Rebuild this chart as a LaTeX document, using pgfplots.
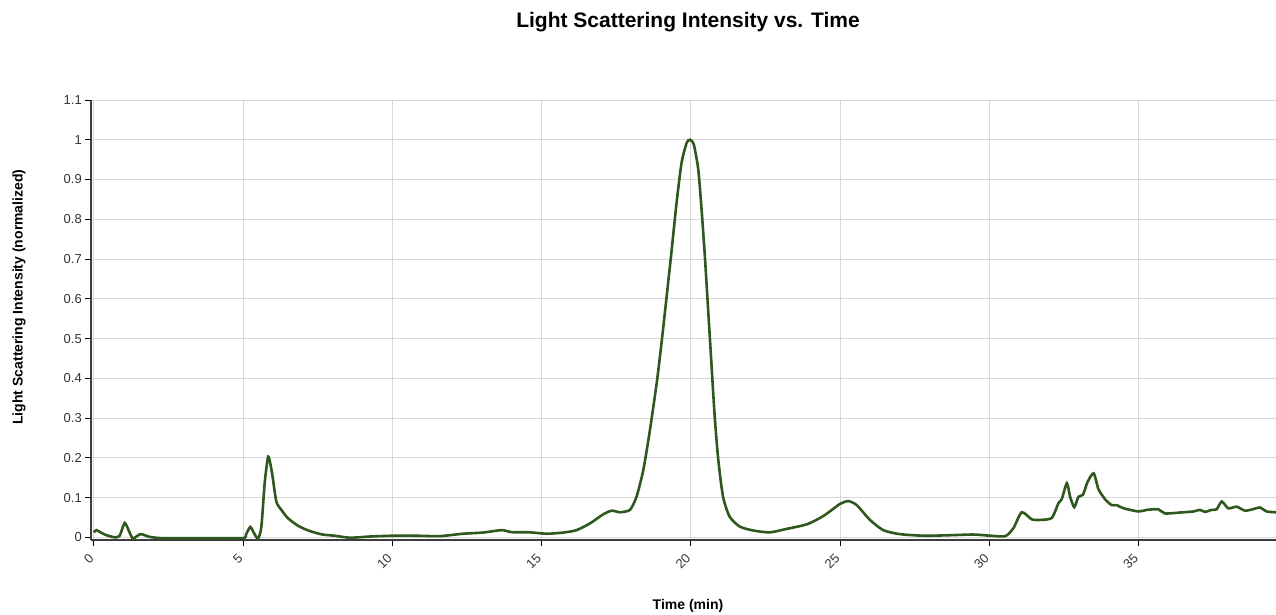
\documentclass[border=0pt]{standalone}
\usepackage{fontspec}
\setmainfont{Liberation Sans}
\usepackage{pgfplots}
\pgfplotsset{compat=1.18}
\definecolor{lsgreen}{RGB}{46,88,30}
\definecolor{gridgray}{RGB}{216,216,216}
\definecolor{axisgray}{RGB}{60,60,60}
\begin{document}
\begin{tikzpicture}[x=1pt,y=1pt]
  \useasboundingbox (0,0) rectangle (1276,-614);
  \begin{axis}[
    at={(91pt,-540pt)}, anchor=south west,
    scale only axis,
    width=1185pt, height=440pt,
    xmin=-0.1, xmax=39.61,
    ymin=-0.0068, ymax=1.1,
    xtick={0,5,...,35},
    ytick={0,0.1,...,1.1},
    axis x line*=bottom, axis y line*=left,
    axis line style={draw=axisgray, line width=1.6pt},
    grid=major,
    grid style={draw=gridgray, line width=1pt},
    tick align=outside,
    major tick length=6pt,
    tick style={draw=black, line width=1pt},
    tick label style={font=\fontsize{13}{15}\selectfont, text=black!80},
    x tick label style={xshift=-6pt, yshift=-4pt, rotate=45, anchor=north east, inner sep=2pt},
    y tick label style={inner sep=3pt},
    /pgf/number format/assume math mode=true,
    clip=true,
  ]
  \addplot[lsgreen, line width=2.6pt, smooth, tension=0.4] coordinates {
    (0,0.012)(0.08,0.018)(0.36,0.007)(0.69,0.0)(0.86,0.004)(1.03,0.036)(1.2,0.011)
    (1.31,-0.003)(1.56,0.008)(1.87,0.001)(2.26,-0.002)(3.15,-0.002)(4.0,-0.002)
    (5.0,-0.002)(5.1,0.008)(5.24,0.026)(5.38,0.008)(5.5,-0.003)(5.61,0.027)
    (5.72,0.136)(5.84,0.203)(5.97,0.16)(6.11,0.09)(6.28,0.069)(6.5,0.048)
    (6.84,0.029)(7.17,0.0175)(7.62,0.0075)(8.06,0.004)(8.58,-0.001)(9.25,0.002)
    (10.03,0.004)(10.8,0.004)(11.59,0.003)(12.37,0.009)(13.04,0.012)(13.66,0.018)
    (14.0,0.013)(14.6,0.0125)(15.17,0.009)(15.73,0.012)(16.17,0.018)(16.62,0.035)
    (17.07,0.058)(17.35,0.067)(17.63,0.063)(17.96,0.069)(18.18,0.102)(18.41,0.17)
    (18.63,0.27)(18.86,0.39)(19.02,0.49)(19.19,0.606)(19.36,0.724)(19.52,0.84)
    (19.69,0.942)(19.86,0.992)(19.97,1.0)(20.1,0.988)(20.25,0.925)(20.36,0.825)
    (20.47,0.707)(20.58,0.573)(20.69,0.438)(20.8,0.304)(20.92,0.195)(21.08,0.102)
    (21.3,0.052)(21.64,0.027)(22.1,0.017)(22.65,0.0125)(23.2,0.021)(23.9,0.033)
    (24.45,0.054)(25.0,0.084)(25.28,0.091)(25.56,0.081)(26.0,0.044)(26.45,0.018)
    (27.0,0.008)(27.8,0.004)(28.57,0.005)(29.47,0.007)(30.03,0.004)(30.54,0.003)
    (30.81,0.023)(31.09,0.063)(31.43,0.045)(31.76,0.044)(32.1,0.049)(32.32,0.086)
    (32.43,0.096)(32.6,0.136)(32.71,0.102)(32.85,0.076)(32.99,0.102)(33.14,0.107)
    (33.3,0.14)(33.5,0.161)(33.66,0.121)(33.88,0.096)(34.1,0.081)(34.27,0.081)
    (34.5,0.073)(35.0,0.065)(35.28,0.069)(35.67,0.0705)(35.89,0.06)(36.5,0.063)
    (36.84,0.065)(37.06,0.069)(37.23,0.064)(37.45,0.069)(37.62,0.0705)(37.79,0.09)
    (38.01,0.073)(38.29,0.077)(38.57,0.067)(38.85,0.071)(39.07,0.075)(39.3,0.065)
    (39.61,0.063)
  };
  \end{axis}
  % title and axis labels
  \node[font=\fontsize{21}{25}\selectfont\bfseries] at (688,-22) {Light Scattering Intensity vs. Time};
  \node[font=\fontsize{14}{16}\selectfont\bfseries] at (688,-606) {Time (min)};
  \node[rotate=90, font=\fontsize{14}{16}\selectfont\bfseries] at (19,-297) {Light Scattering Intensity (normalized)};
\end{tikzpicture}
\end{document}
